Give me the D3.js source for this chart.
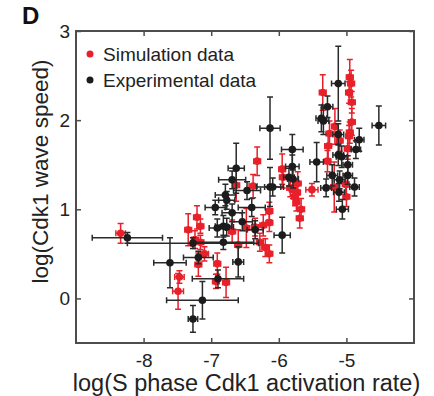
<!DOCTYPE html>
<html><head><meta charset="utf-8">
<script src="https://cdn.jsdelivr.net/npm/d3@7"></script>
<style>body{margin:0;background:#fff}svg{display:block;font-family:Arial,"Liberation Sans",sans-serif}</style>
</head><body><svg id="c" width="434" height="396"></svg>
<script>
const xTicks = [-8, -7, -6, -5];
const yTicks = [0, 1, 2, 3];
const seriesNames = ["Simulation data", "Experimental data"];

const simX = [-8.34,-7.47,-7.49,-7.34,-7.21,-7.16,-7.24,-7.16,-7.10,-7.19,-6.91,-6.93,-6.78,-6.69,-6.60,-6.48,-6.32,-6.38,-6.63,-6.35,-6.23,-6.14,-6.14,-6.28,-6.20,-6.14,-5.95,-5.94,-5.83,-5.79,-5.72,-5.73,-5.67,-5.69,-5.51,-5.35,-5.27,-5.28,-5.25,-5.17,-5.10,-5.18,-5.01,-5.00,-4.98,-4.96,-4.95,-4.93,-4.96,-4.92,-4.92,-4.95,-5.76,-5.74];
const simY = [0.73,0.24,0.08,0.77,0.91,0.81,0.66,0.63,0.50,0.38,0.39,0.19,0.18,0.75,0.60,0.79,1.54,1.26,1.27,0.80,0.82,0.85,0.98,0.63,0.57,0.50,1.45,1.36,1.24,1.22,1.29,1.19,1.00,0.90,1.22,2.31,1.71,1.54,1.85,1.93,1.77,1.25,1.28,1.14,1.68,1.82,2.48,2.41,2.31,2.20,1.98,1.86,1.14,1.08];
const simXErr = [0.07,0.07,0.08,0.05,0.05,0.05,0.05,0.05,0.06,0.05,0.05,0.05,0.05,0.05,0.05,0.05,0.05,0.06,0.05,0.05,0.05,0.05,0.05,0.05,0.05,0.05,0.05,0.05,0.05,0.05,0.05,0.05,0.05,0.05,0.09,0.05,0.05,0.05,0.05,0.05,0.05,0.05,0.05,0.05,0.05,0.05,0.05,0.05,0.05,0.05,0.05,0.05,0.05,0.05];
const simYErr = [0.11,0.07,0.20,0.18,0.13,0.08,0.10,0.08,0.08,0.13,0.12,0.08,0.17,0.13,0.17,0.22,0.16,0.13,0.18,0.10,0.12,0.10,0.10,0.10,0.10,0.10,0.17,0.12,0.10,0.10,0.13,0.10,0.12,0.11,0.07,0.20,0.15,0.12,0.14,0.20,0.12,0.28,0.12,0.11,0.12,0.12,0.20,0.15,0.12,0.12,0.15,0.12,0.10,0.10];

const expX = [-8.24,-7.61,-7.13,-7.27,-7.19,-7.27,-6.90,-6.60,-6.94,-6.69,-6.91,-6.82,-6.77,-6.54,-6.82,-6.40,-6.35,-6.63,-6.69,-6.13,-6.47,-6.79,-6.77,-5.95,-6.13,-5.80,-5.80,-5.85,-5.79,-6.09,-5.44,-5.30,-5.28,-5.37,-5.34,-5.12,-4.52,-5.12,-5.12,-5.07,-4.81,-4.86,-5.21,-5.10,-5.11,-5.06,-4.98,-4.98,-4.88];
const expY = [0.68,0.40,-0.02,-0.23,0.46,0.62,0.22,0.41,1.02,0.96,0.79,0.81,0.80,0.86,0.63,1.02,0.77,1.46,1.33,1.25,1.21,1.16,1.10,0.71,1.91,1.67,1.48,1.36,1.34,1.25,1.53,1.24,2.15,2.02,1.99,2.41,1.94,1.84,1.61,1.59,1.78,1.67,1.38,1.33,1.19,1.00,1.50,1.38,1.25];
const expXErr = [0.52,0.24,0.53,0.07,0.22,0.97,0.38,0.08,0.15,0.15,0.12,0.12,0.10,0.15,0.45,0.20,0.12,0.12,0.20,0.20,0.20,0.15,0.12,0.12,0.15,0.16,0.10,0.08,0.08,0.12,0.10,0.08,0.08,0.08,0.08,0.10,0.10,0.08,0.08,0.08,0.07,0.07,0.08,0.08,0.08,0.09,0.07,0.07,0.07];
const expYErr = [0.06,0.28,0.21,0.15,0.07,0.06,0.10,0.17,0.08,0.10,0.10,0.12,0.10,0.10,0.08,0.10,0.10,0.28,0.10,0.22,0.10,0.12,0.10,0.20,0.35,0.17,0.13,0.10,0.10,0.10,0.22,0.10,0.12,0.15,0.15,0.42,0.22,0.12,0.12,0.12,0.13,0.10,0.12,0.10,0.10,0.11,0.10,0.10,0.10];

const RED = "#e8202a", BLACK = "#1c1c1c";
const svg = d3.select("#c");
const L = 76, R = 414, T = 31, B = 343;
const x = d3.scaleLinear().domain([-9, -4]).range([L, R]);
const y = d3.scaleLinear().domain([-0.5, 3]).range([B, T]);

function series(X, Y, XE, YE, color, barColor) {
  const data = X.map((v, i) => ({x: v, y: Y[i], xe: XE[i], ye: YE[i]}));
  const g = svg.append("g");
  const cap = 3;
  data.forEach(d => {
    const cx = x(d.x), cy = y(d.y);
    const p = d3.path();
    p.moveTo(cx, y(d.y - d.ye)); p.lineTo(cx, y(d.y + d.ye));
    p.moveTo(cx - cap, y(d.y - d.ye)); p.lineTo(cx + cap, y(d.y - d.ye));
    p.moveTo(cx - cap, y(d.y + d.ye)); p.lineTo(cx + cap, y(d.y + d.ye));
    p.moveTo(x(d.x - d.xe), cy); p.lineTo(x(d.x + d.xe), cy);
    p.moveTo(x(d.x - d.xe), cy - cap); p.lineTo(x(d.x - d.xe), cy + cap);
    p.moveTo(x(d.x + d.xe), cy - cap); p.lineTo(x(d.x + d.xe), cy + cap);
    g.append("path").attr("d", p.toString()).attr("fill", "none")
      .attr("stroke", barColor).attr("stroke-width", 1.5);
  });
  g.selectAll("circle").data(data).join("circle")
    .attr("cx", d => x(d.x)).attr("cy", d => y(d.y)).attr("r", 3.8)
    .attr("fill", color);
}

series(simX, simY, simXErr, simYErr, RED, RED);
series(expX, expY, expXErr, expYErr, BLACK, "#2a2a2a");

// Frame and ticks
const FRAME = "#4d4d4d";
const fmt = d => String(d);
const ax = svg.append("g");
const xb = ax.append("g").attr("transform", `translate(0,${B})`)
  .call(d3.axisBottom(x).tickValues(xTicks).tickSize(-5).tickPadding(11).tickFormat(fmt));
ax.append("g").attr("transform", `translate(0,${T})`)
  .call(d3.axisTop(x).tickValues(xTicks).tickSize(-5).tickFormat(""));
ax.append("g").attr("transform", `translate(${L},0)`)
  .call(d3.axisLeft(y).tickValues(yTicks).tickSize(-5).tickPadding(6).tickFormat(fmt));
ax.append("g").attr("transform", `translate(${R},0)`)
  .call(d3.axisRight(y).tickValues(yTicks).tickSize(-5).tickFormat(""));
ax.selectAll(".domain").remove();
ax.selectAll(".tick line").attr("stroke", FRAME).attr("stroke-width", 1.5);
ax.selectAll(".tick text").attr("fill", "#222").style("font-size", "19px");
xb.selectAll(".tick text").attr("dy", "0.71em");
ax.append("rect").attr("x", L).attr("y", T).attr("width", R - L).attr("height", B - T)
  .attr("fill", "none").attr("stroke", FRAME).attr("stroke-width", 2);

// Axis labels
svg.append("text").attr("x", 246.5).attr("y", 390.5).attr("text-anchor", "middle")
  .style("font-size", "23.5px").attr("fill", "#222").text("log(S phase Cdk1 activation rate)");
svg.append("text").attr("transform", "translate(48,171.5) rotate(-90)").attr("text-anchor", "middle")
  .style("font-size", "22.5px").attr("fill", "#222").text("log(Cdk1 wave speed)");
svg.append("text").attr("x", 22).attr("y", 24).style("font-size", "24px").style("font-weight", "bold")
  .attr("fill", "#111").text("D");

// Legend
const leg = svg.append("g");
const legColors = [RED, BLACK];
const legY = [54, 80];
seriesNames.forEach((n, i) => {
  leg.append("circle").attr("cx", 90).attr("cy", legY[i]).attr("r", 3.5).attr("fill", legColors[i]);
  leg.append("text").attr("x", 103).attr("y", legY[i] + 6.5).style("font-size", "19px").attr("fill", "#222").text(n);
});
</script></body></html>
